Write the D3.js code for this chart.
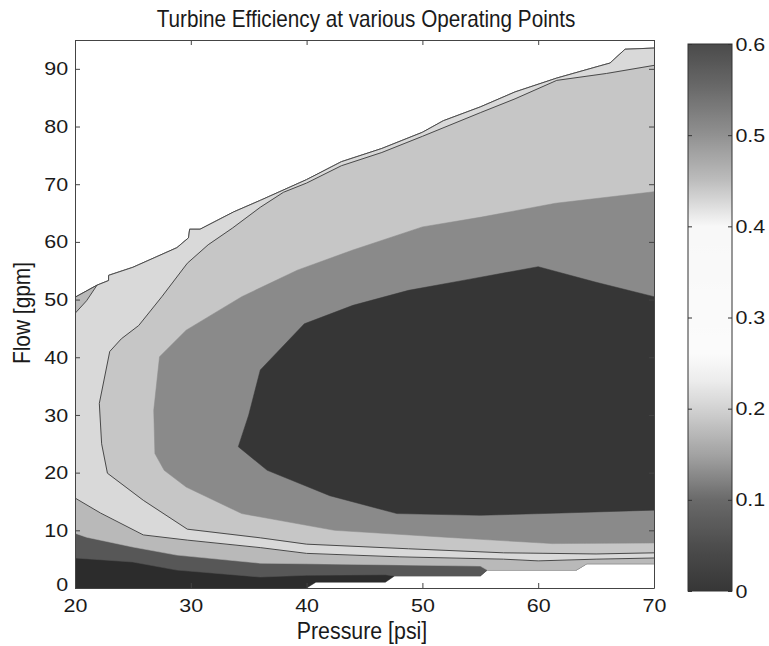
<!DOCTYPE html>
<html>
<head>
<meta charset="utf-8">
<script src="https://cdn.jsdelivr.net/npm/d3@7"></script>
<style>
  body { margin: 0; background: #fff; }
  svg { display: block; }
</style>
</head>
<body>
<svg id="chart" width="769" height="646"></svg>
<script>
// axis ticks
const pressureTicks = [20, 30, 40, 50, 60, 70];
const flowTicks = [0, 10, 20, 30, 40, 50, 60, 70, 80, 90];
const effTicks = [0, 0.1, 0.2, 0.3, 0.4, 0.5, 0.6];

// efficiency level of each filled region (value >= level)
const levels = [0, 0.1, 0.2, 0.3, 0.4, 0.45, 0.5];

// contour lines, [pressure psi, flow gpm]
const topEdge = [[20, 50.4], [21.9, 52.5], [22.9, 53.3], [22.9, 54.2], [25, 55.6], [28.8, 59], [29.8, 60.7],
  [29.9, 62.2], [30.8, 62.2], [33.7, 65.2], [36, 67.2], [40, 70.8], [43, 73.9], [46.5, 76.2], [50, 79],
  [51.8, 81], [55, 83.4], [58, 86], [61.6, 88.4], [65.3, 90.5], [66.2, 91], [67.5, 93.4], [70, 93.6]];
const bottomEdge = [[20, 0], [40, 0], [40.8, 1.0], [46.8, 1.0], [47.6, 2.1], [55, 2.1], [55.6, 3.1],
  [63.3, 3.1], [64.2, 4.2], [70, 4.2]];
const c010 = [[20, 5.2], [25, 4.5], [28.8, 3.1], [36, 1.9], [40, 2.2], [46.8, 2.3], [47.6, 2.1]];
const c020 = [[20, 9.5], [21, 8.8], [25, 7.1], [28.8, 5.7], [36, 4.3], [40, 4.2], [48, 4.0], [55, 3.8], [55.6, 3.1]];
const c030 = [[20, 15.6], [22.2, 13], [25.9, 9.2], [29.7, 8.3], [36, 7.0], [40, 6.0], [48, 5.4], [57, 5.0],
  [60, 4.7], [65, 5.0], [70, 5.2]];
const c030b = [[20, 47.6], [21, 49.8], [21.9, 52.5]];
const c040 = [[70, 6.1], [65, 5.9], [57, 6.1], [48.8, 6.8], [40, 7.6], [36, 8.7], [29.7, 10.2], [25.9, 15.2],
  [22.8, 19.9], [22.3, 25], [22.1, 32], [23, 41], [24, 43.2], [25.5, 45.5], [27.5, 50.5], [29.7, 56.3],
  [31.5, 59.5], [33.6, 62.4], [36, 66], [38, 68.6], [40, 70.2], [43, 73.2], [46.5, 75.5], [50, 78.3],
  [55, 82.4], [58, 84.8], [61.6, 88], [65.9, 89.2], [70, 90.6]];
const c045 = [[70, 7.8], [61.2, 7.7], [52, 8.8], [42.4, 10], [34.4, 12.9], [29.6, 17.5], [27.7, 20.4],
  [26.9, 23.3], [26.8, 30.8], [27.3, 40.1], [29.6, 44.7], [34.4, 50.5], [39.2, 55.1], [44, 58.6],
  [50, 62.6], [55.1, 64.3], [61.5, 66.7], [70, 68.7]];
const c050 = [[70, 13.5], [62, 13], [55, 12.6], [47.8, 12.9], [42, 16], [36.6, 20.4], [34.1, 24.5],
  [35, 30], [36, 37.8], [39.8, 45.8], [44, 49], [48.8, 51.6], [54, 53.5], [60, 55.7], [65, 53], [70, 50.5]];

const svg = d3.select('#chart');
const m = { left: 75, right: 654, top: 40, bottom: 588 };

const x = d3.scaleLinear([20, 70], [m.left, m.right]);
const y = d3.scaleLinear([0, 95], [m.bottom, m.top]);

// printed grey bands
const bandFill = d3.scaleOrdinal(levels,
  ['#2c2c2c', '#575757', '#b9b9b9', '#d9d9d9', '#c6c6c6', '#8a8a8a', '#363636']);

const rev = a => a.slice().reverse();
const last = a => a[a.length - 1];

const regions = [
  { level: 0, pts: bottomEdge.concat(rev(topEdge)) },
  { level: 0.1, pts: c010.concat(bottomEdge.filter(d => d[0] > last(c010)[0]), rev(topEdge)) },
  { level: 0.2, pts: c020.concat(bottomEdge.filter(d => d[0] > last(c020)[0]), rev(topEdge)) },
  { level: 0.3, pts: c030.concat(rev(topEdge.filter(d => d[0] > last(c030b)[0])), rev(c030b)) },
  { level: 0.4, pts: c040 },
  { level: 0.45, pts: c045 },
  { level: 0.5, pts: c050 }
];

const line = d3.line().x(d => x(d[0])).y(d => y(d[1]));

svg.append('clipPath').attr('id', 'plot')
  .append('rect')
  .attr('x', m.left).attr('y', m.top)
  .attr('width', m.right - m.left).attr('height', m.bottom - m.top);

const g = svg.append('g').attr('clip-path', 'url(#plot)');

g.selectAll('path.band')
  .data(regions)
  .join('path')
  .attr('class', 'band')
  .attr('d', d => line(d.pts) + 'Z')
  .attr('fill', d => bandFill(d.level))
  .attr('stroke', d => bandFill(d.level))
  .attr('stroke-width', 0.5);

// contour lines that show in the print
g.selectAll('path.iso')
  .data([topEdge, c030, c030b, c040])
  .join('path')
  .attr('class', 'iso')
  .attr('d', line)
  .attr('fill', 'none')
  .attr('stroke', '#3a3a3a')
  .attr('stroke-width', 0.9);

// axes, ticks pointing in
const axisColor = '#444';
const fontFamily = '"Liberation Sans", Arimo, Arial, Helvetica, sans-serif';
// the scanned print is a little wider than the face
const styleTicks = a => a.selectAll('text')
  .style('font-family', fontFamily).style('font-size', '19px')
  .attr('transform', 'scale(1.13,1)')
  .attr('fill', '#1a1a1a');

svg.append('g')
  .attr('transform', `translate(${m.left},0)`)
  .call(d3.axisLeft(y).tickValues(flowTicks).tickSize(-5).tickSizeOuter(0).tickPadding(6))
  .call(styleTicks)
  .call(a => a.selectAll('text').filter(d => d === 0).attr('dy', '0.15em'));

svg.append('g')
  .attr('transform', `translate(${m.right},0)`)
  .call(d3.axisRight(y).tickValues(flowTicks).tickSize(-5).tickSizeOuter(0).tickFormat(''));

svg.append('g')
  .attr('transform', `translate(0,${m.bottom})`)
  .call(d3.axisBottom(x).tickValues(pressureTicks).tickSize(-5).tickSizeOuter(0).tickPadding(11))
  .call(styleTicks);

svg.append('g')
  .attr('transform', `translate(0,${m.top})`)
  .call(d3.axisTop(x).tickValues(pressureTicks).tickSize(-5).tickSizeOuter(0).tickFormat(''));

svg.selectAll('.domain, .tick line').attr('stroke', axisColor);

// titles, narrow print face
const labelText = (sel, size) => sel
  .attr('text-anchor', 'middle')
  .style('font-family', fontFamily).style('font-size', size)
  .attr('fill', '#1a1a1a');

svg.append('text')
  .attr('transform', 'translate(366,27) scale(0.9,1)')
  .call(labelText, '23px')
  .text('Turbine Efficiency at various Operating Points');

svg.append('text')
  .attr('transform', 'translate(362,639) scale(0.89,1)')
  .call(labelText, '24px')
  .text('Pressure [psi]');

svg.append('text')
  .attr('transform', 'translate(30,313) rotate(-90) scale(0.87,1)')
  .call(labelText, '24px')
  .text('Flow [gpm]');

// colour bar
const cb = { left: 688, right: 732 };
const cy = d3.scaleLinear([0, 0.6], [591, 44]);

const cmap = d3.scaleLinear()
  .domain([0, 0.05, 0.1, 0.15, 0.2, 0.23, 0.26, 0.4, 0.42, 0.45, 0.5, 0.55, 0.6])
  .range(['#363636', '#4d4d4d', '#6a6a6a', '#a3a3a3', '#d2d2d2', '#ececec', '#fbfbfb',
    '#f8f8f8', '#e0e0e0', '#bdbdbd', '#919191', '#6b6b6b', '#4a4a4a']);

const grad = svg.append('defs').append('linearGradient')
  .attr('id', 'cbar')
  .attr('x1', 0).attr('x2', 0).attr('y1', 1).attr('y2', 0);
grad.selectAll('stop')
  .data(d3.range(0, 61).map(i => i / 100))
  .join('stop')
  .attr('offset', d => d / 0.6)
  .attr('stop-color', cmap);

svg.append('rect')
  .attr('x', cb.left).attr('y', cy(0.6))
  .attr('width', cb.right - cb.left).attr('height', cy(0) - cy(0.6))
  .attr('fill', 'url(#cbar)')
  .attr('stroke', '#333').attr('stroke-width', 1);

svg.append('g')
  .attr('transform', `translate(${cb.right},0)`)
  .call(d3.axisRight(cy).tickValues(effTicks).tickSize(-4).tickSizeOuter(0).tickPadding(3)
    .tickFormat(d => d === 0 ? '0' : d3.format('.1f')(d)))
  .call(styleTicks)
  .call(a => a.select('.domain').remove())
  .call(a => a.selectAll('.tick line').attr('stroke', '#333'));

svg.append('g')
  .attr('transform', `translate(${cb.left},0)`)
  .call(d3.axisLeft(cy).tickValues(effTicks).tickSize(-4).tickSizeOuter(0).tickFormat(''))
  .call(a => a.select('.domain').remove())
  .call(a => a.selectAll('.tick line').attr('stroke', '#333'));
</script>
</body>
</html>
